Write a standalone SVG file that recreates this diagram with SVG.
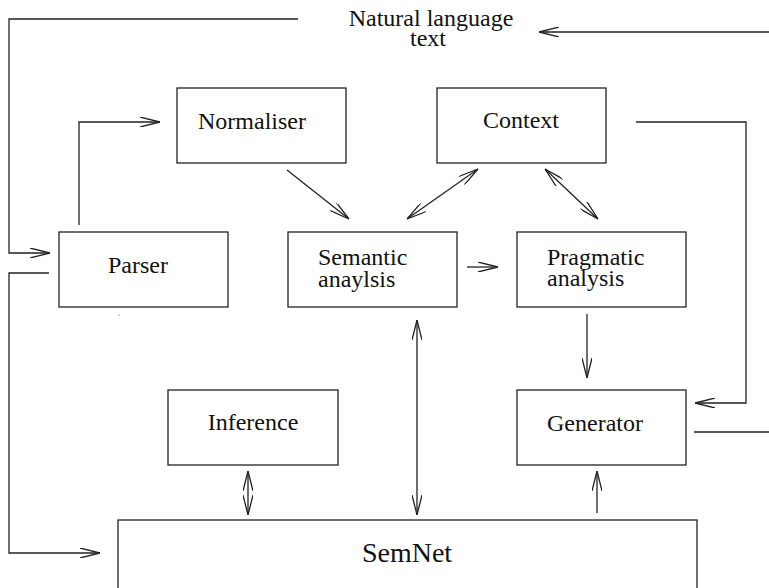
<svg xmlns="http://www.w3.org/2000/svg" width="769" height="588" viewBox="0 0 769 588">
<style>
.box{fill:none;stroke:#222;stroke-width:1.3}
.lbl{font-family:"Liberation Serif","Times New Roman",serif;font-size:24px;fill:#111}
.c{stroke:#222;stroke-width:1.3;fill:none}
</style>
<defs>
<marker id="ah" viewBox="0 0 20 10" markerWidth="20" markerHeight="10" refX="20" refY="5" orient="auto-start-reverse" markerUnits="userSpaceOnUse">
<path d="M0,0 L20,5 L0,10" fill="none" stroke="#222" stroke-width="1.3"/>
</marker>
</defs>
<rect width="769" height="588" fill="#fff"/>
<g id="input-text">
<text class="lbl" x="431" y="26" text-anchor="middle">Natural language</text>
<text class="lbl" x="428" y="46" text-anchor="middle">text</text>
</g>
<g id="normaliser"><rect class="box" x="177" y="88" width="169" height="75"/><text class="lbl" x="198" y="129">Normaliser</text></g>
<g id="context"><rect class="box" x="437" y="88" width="169" height="75"/><text class="lbl" x="521" y="128" text-anchor="middle">Context</text></g>
<g id="parser"><rect class="box" x="59" y="232" width="169" height="75"/><text class="lbl" x="108" y="273">Parser</text></g>
<g id="semantic"><rect class="box" x="288" y="232" width="169" height="75"/><text class="lbl" x="318" y="265">Semantic</text><text class="lbl" x="318" y="287">anaylsis</text></g>
<g id="pragmatic"><rect class="box" x="517" y="232" width="169" height="75"/><text class="lbl" x="547" y="265">Pragmatic</text><text class="lbl" x="547" y="286">analysis</text></g>
<g id="inference"><rect class="box" x="168" y="390" width="170" height="75"/><text class="lbl" x="253" y="430" text-anchor="middle">Inference</text></g>
<g id="generator"><rect class="box" x="517" y="390" width="169" height="75"/><text class="lbl" x="595" y="431" text-anchor="middle">Generator</text></g>
<g id="semnet"><rect class="box" x="118" y="520" width="579" height="90"/><text class="lbl" x="407" y="562" text-anchor="middle" style="font-size:28px">SemNet</text></g>
<g id="connectors">
<polyline class="c" points="298,19 9,19 9,253 50,253" marker-end="url(#ah)"/>
<line class="c" x1="769" y1="32" x2="539" y2="32" marker-end="url(#ah)"/>
<polyline class="c" points="79,225 79,122 160,122" marker-end="url(#ah)"/>
<polyline class="c" points="49,273 9,273 9,553 100,553" marker-end="url(#ah)"/>
<line class="c" x1="287" y1="170" x2="349" y2="219" marker-end="url(#ah)"/>
<line class="c" x1="407" y1="219" x2="478" y2="169" marker-start="url(#ah)" marker-end="url(#ah)"/>
<line class="c" x1="545" y1="169" x2="598" y2="219" marker-start="url(#ah)" marker-end="url(#ah)"/>
<line class="c" x1="467" y1="267" x2="498" y2="267" marker-end="url(#ah)"/>
<line class="c" x1="417" y1="320" x2="417" y2="515" marker-start="url(#ah)" marker-end="url(#ah)"/>
<line class="c" x1="248" y1="471" x2="248" y2="515" marker-start="url(#ah)" marker-end="url(#ah)"/>
<line class="c" x1="587" y1="314" x2="587" y2="378" marker-end="url(#ah)"/>
<line class="c" x1="597" y1="513" x2="597" y2="471" marker-end="url(#ah)"/>
<polyline class="c" points="636,122 746,122 746,403 695,403" marker-end="url(#ah)"/>
<line class="c" x1="694" y1="432" x2="769" y2="432"/>
<circle cx="119" cy="315" r="0.6" fill="#444"/>
</g>
</svg>
